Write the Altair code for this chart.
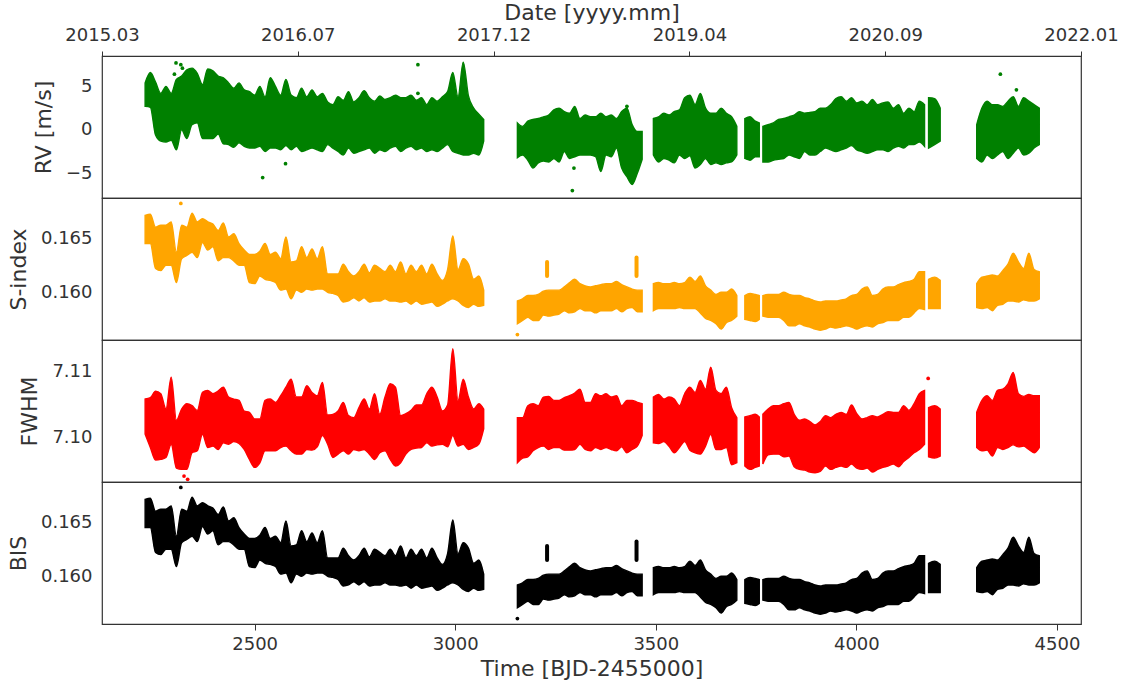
import altair as alt
import pandas as pd

# ---------------- data ----------------
# observing seasons (sample counts per season, in order)
SEASON_NAMES = ["s1", "s2", "s3", "s4a", "s4b", "s4c", "s5"]
SEASON_SIZES = [66, 25, 17, 4, 32, 3, 13]

TIME = [
    # season 1
    2227, 2240, 2253, 2266, 2279, 2292, 2305, 2318, 2331, 2344,
    2357, 2370, 2383, 2396, 2409, 2422, 2435, 2448, 2461, 2474,
    2487, 2500, 2513, 2526, 2539, 2552, 2565, 2578, 2591, 2604,
    2617, 2630, 2643, 2656, 2669, 2682, 2695, 2708, 2721, 2734,
    2747, 2760, 2773, 2786, 2799, 2812, 2825, 2838, 2851, 2864,
    2877, 2890, 2903, 2916, 2929, 2942, 2955, 2968, 2981, 2994,
    3007, 3020, 3033, 3046, 3059, 3071,
    # season 2
    3155, 3168, 3181, 3194, 3207, 3220, 3233, 3246, 3259, 3272,
    3285, 3298, 3311, 3324, 3337, 3350, 3363, 3376, 3389, 3402,
    3415, 3428, 3441, 3454, 3466,
    # season 3
    3494, 3507, 3520, 3533, 3546, 3559, 3572, 3585, 3598, 3611,
    3624, 3637, 3650, 3663, 3676, 3689, 3702,
    # season 4a
    3722, 3735, 3748, 3758,
    # season 4b
    3767, 3780, 3793, 3806, 3819, 3832, 3845, 3858, 3871, 3884,
    3897, 3910, 3923, 3936, 3949, 3962, 3975, 3988, 4001, 4014,
    4027, 4040, 4053, 4066, 4079, 4092, 4105, 4118, 4131, 4144,
    4157, 4170,
    # season 4c
    4180, 4195, 4209,
    # season 5
    4300, 4313, 4326, 4339, 4352, 4365, 4378, 4391, 4404, 4417,
    4430, 4443, 4456,
]

RV_HI = [
    5.4, 6.6, 5.5, 4.2, 5.0, 4.2, 5.8, 6.2, 6.9, 7.1,
    6.5, 5.2, 7.0, 6.8, 6.2, 6.0, 5.4, 4.8, 5.4, 4.6,
    4.4, 4.0, 5.0, 3.8, 6.0, 5.0, 4.0, 5.8, 4.0, 3.7,
    4.8, 3.8, 4.6, 3.8, 4.2, 3.2, 2.9, 3.8, 3.4, 4.4,
    3.2, 3.7, 4.5, 3.7, 3.3, 3.9, 3.5, 3.7, 4.0, 3.7,
    3.7, 4.0, 3.4, 3.7, 2.9, 3.7, 3.3, 3.8, 4.4, 6.6,
    3.8, 7.8, 3.9, 2.5, 1.8, 1.2,
    0.8, 0.4, 1.0, 1.2, 1.3, 1.5, 1.7, 2.3, 2.5, 2.1,
    1.9, 2.7, 1.3, 1.7, 1.5, 1.5, 1.9, 1.5, 1.7, 1.3,
    2.1, 2.5, 0.6, -0.2, -0.2,
    1.3, 1.5, 1.9, 1.7, 2.1, 2.3, 3.7, 4.0, 2.9, 4.2,
    2.5, 1.9, 1.9, 2.5, 1.9, 1.5, 0.4,
    1.3, 1.5, 1.0, 0.8,
    0.4, 0.6, 0.8, 1.2, 1.3, 1.5, 1.7, 2.1, 1.9, 2.0,
    2.1, 2.5, 2.5, 2.9, 3.6, 3.8, 3.3, 3.7, 3.1, 3.3,
    2.9, 3.5, 2.9, 3.1, 3.2, 2.5, 2.9, 1.9, 2.5, 2.1,
    3.3, 2.9,
    3.7, 3.6, 2.5,
    0.6, 2.5, 3.3, 2.9, 2.9, 2.7, 3.3, 3.8, 2.7, 3.7,
    3.3, 2.9, 2.5,
]
RV_LO = [
    2.7, 2.6, -0.6, -1.3, -1.4, -1.2, -2.3, 0.0, -1.0, 0.6,
    0.8, -1.0, -1.0, -1.0, -0.5, -1.6, -1.7, -2.0, -1.5, -1.9,
    -2.1, -2.1, -1.9, -2.5, -2.1, -2.1, -2.3, -1.8, -2.3, -1.9,
    -2.5, -2.3, -2.1, -2.3, -2.5, -1.7, -2.1, -2.5, -2.9, -2.1,
    -2.7, -2.5, -2.3, -2.1, -2.7, -2.3, -2.5, -2.1, -1.9, -2.5,
    -2.1, -1.9, -2.3, -2.1, -2.5, -2.3, -2.5, -2.1, -1.7, -2.5,
    -2.7, -2.9, -2.9, -2.7, -2.9, -1.3,
    -3.2, -2.9, -3.5, -4.4, -3.8, -3.6, -3.7, -3.3, -3.7, -2.5,
    -3.3, -3.1, -2.9, -2.9, -2.9, -3.1, -4.8, -2.9, -3.1, -2.1,
    -4.4, -5.4, -6.3, -5.0, -3.4,
    -2.9, -3.7, -3.3, -3.5, -3.8, -2.9, -3.3, -3.0, -4.4, -4.0,
    -3.3, -4.0, -3.8, -4.0, -3.8, -3.7, -2.9,
    -3.3, -3.5, -3.1, -3.1,
    -3.7, -3.7, -3.5, -3.4, -3.3, -2.9, -3.1, -3.3, -2.5, -2.9,
    -2.9, -2.5, -2.1, -2.3, -2.5, -2.3, -2.1, -1.8, -2.3, -2.5,
    -2.7, -2.5, -2.3, -2.3, -2.5, -2.1, -1.9, -2.1, -1.7, -1.7,
    -1.4, -1.9,
    -2.1, -1.7, -1.3,
    -3.3, -3.7, -2.9, -3.3, -2.9, -2.5, -3.3, -2.7, -2.1, -2.9,
    -2.7, -2.1, -1.7,
]

S_HI = [
    0.1671, 0.1672, 0.1660, 0.1662, 0.1662, 0.1665, 0.1637, 0.1662, 0.1660, 0.1673,
    0.1665, 0.1668, 0.1665, 0.1663, 0.1657, 0.1664, 0.1651, 0.1654, 0.1645, 0.1639,
    0.1635, 0.1635, 0.1638, 0.1645, 0.1635, 0.1637, 0.1631, 0.1651, 0.1628, 0.1629,
    0.1642, 0.1632, 0.1640, 0.1631, 0.1642, 0.1617, 0.1617, 0.1617, 0.1626, 0.1619,
    0.1615, 0.1619, 0.1626, 0.1618, 0.1625, 0.1622, 0.1619, 0.1625, 0.1619, 0.1628,
    0.1617, 0.1625, 0.1619, 0.1625, 0.1617, 0.1626, 0.1617, 0.1611, 0.1621, 0.1652,
    0.1621, 0.1631, 0.1626, 0.1612, 0.1615, 0.1602,
    0.1592, 0.1594, 0.1597, 0.1597, 0.1598, 0.1601, 0.1602, 0.1602, 0.1602, 0.1605,
    0.1609, 0.1612, 0.1608, 0.1606, 0.1605, 0.1606, 0.1607, 0.1608, 0.1608, 0.1610,
    0.1607, 0.1605, 0.1603, 0.1602, 0.1602,
    0.1608, 0.1609, 0.1608, 0.1608, 0.1609, 0.1608, 0.1609, 0.1614, 0.1610, 0.1615,
    0.1606, 0.1602, 0.1598, 0.1600, 0.1600, 0.1603, 0.1597,
    0.1597, 0.1599, 0.1598, 0.1597,
    0.1597, 0.1598, 0.1598, 0.1598, 0.1600, 0.1598, 0.1597, 0.1597, 0.1595, 0.1594,
    0.1592, 0.1591, 0.1592, 0.1592, 0.1592, 0.1593, 0.1594, 0.1597, 0.1598, 0.1603,
    0.1605, 0.1597, 0.1598, 0.1603, 0.1605, 0.1605, 0.1607, 0.1609, 0.1610, 0.1612,
    0.1619, 0.1619,
    0.1612, 0.1614, 0.1611,
    0.1608, 0.1614, 0.1615, 0.1616, 0.1615, 0.1620, 0.1626, 0.1636, 0.1628, 0.1622,
    0.1636, 0.1621, 0.1619,
]
S_LO = [
    0.1645, 0.1645, 0.1622, 0.1620, 0.1625, 0.1625, 0.1609, 0.1631, 0.1634, 0.1637,
    0.1632, 0.1646, 0.1639, 0.1642, 0.1629, 0.1632, 0.1632, 0.1629, 0.1625, 0.1625,
    0.1609, 0.1608, 0.1615, 0.1612, 0.1611, 0.1609, 0.1602, 0.1603, 0.1594, 0.1602,
    0.1600, 0.1603, 0.1602, 0.1603, 0.1603, 0.1600, 0.1599, 0.1597, 0.1591, 0.1592,
    0.1595, 0.1592, 0.1595, 0.1591, 0.1592, 0.1592, 0.1594, 0.1592, 0.1592, 0.1591,
    0.1592, 0.1589, 0.1592, 0.1589, 0.1590, 0.1591, 0.1587, 0.1589, 0.1592, 0.1594,
    0.1592, 0.1588, 0.1586, 0.1589, 0.1587, 0.1588,
    0.1571, 0.1574, 0.1577, 0.1574, 0.1574, 0.1579, 0.1578, 0.1579, 0.1580, 0.1583,
    0.1581, 0.1582, 0.1585, 0.1583, 0.1583, 0.1581, 0.1583, 0.1583, 0.1583, 0.1585,
    0.1582, 0.1585, 0.1586, 0.1582, 0.1582,
    0.1583, 0.1585, 0.1585, 0.1585, 0.1585, 0.1586, 0.1585, 0.1585, 0.1585, 0.1581,
    0.1576, 0.1574, 0.1571, 0.1566, 0.1572, 0.1574, 0.1578,
    0.1575, 0.1574, 0.1573, 0.1575,
    0.1578, 0.1577, 0.1577, 0.1577, 0.1574, 0.1569, 0.1569, 0.1571, 0.1569, 0.1568,
    0.1566, 0.1565, 0.1566, 0.1568, 0.1567, 0.1568, 0.1569, 0.1568, 0.1566, 0.1568,
    0.1569, 0.1568, 0.1571, 0.1572, 0.1574, 0.1574, 0.1574, 0.1577, 0.1577, 0.1581,
    0.1585, 0.1584,
    0.1585, 0.1585, 0.1585,
    0.1586, 0.1585, 0.1586, 0.1583, 0.1588, 0.1589, 0.1592, 0.1592, 0.1591, 0.1593,
    0.1592, 0.1592, 0.1594,
]

FW_HI = [
    7.1058, 7.1060, 7.1070, 7.1066, 7.1043, 7.1091, 7.1026, 7.1043, 7.1051, 7.1048,
    7.1041, 7.1068, 7.1071, 7.1066, 7.1070, 7.1076, 7.1061, 7.1058, 7.1056, 7.1040,
    7.1038, 7.1028, 7.1028, 7.1056, 7.1058, 7.1053, 7.1063, 7.1076, 7.1088, 7.1061,
    7.1061, 7.1078, 7.1068, 7.1063, 7.1083, 7.1034, 7.1035, 7.1040, 7.1053, 7.1033,
    7.1030, 7.1045, 7.1058, 7.1043, 7.1066, 7.1035, 7.1061, 7.1081, 7.1076, 7.1033,
    7.1036, 7.1041, 7.1049, 7.1049, 7.1066, 7.1076, 7.1061, 7.1040, 7.1049, 7.1134,
    7.1056, 7.1088, 7.1061, 7.1043, 7.1051, 7.1043,
    7.1030, 7.1030, 7.1048, 7.1051, 7.1048, 7.1061, 7.1062, 7.1056, 7.1056, 7.1060,
    7.1063, 7.1067, 7.1073, 7.1053, 7.1053, 7.1066, 7.1063, 7.1066, 7.1061, 7.1063,
    7.1048, 7.1056, 7.1056, 7.1053, 7.1051,
    7.1061, 7.1065, 7.1058, 7.1061, 7.1058, 7.1048, 7.1066, 7.1076, 7.1068, 7.1086,
    7.1073, 7.1106, 7.1071, 7.1066, 7.1076, 7.1045, 7.1030,
    7.1031, 7.1033, 7.1035, 7.1031,
    7.1035, 7.1043, 7.1048, 7.1048, 7.1051, 7.1053, 7.1035, 7.1026, 7.1028, 7.1024,
    7.1019, 7.1024, 7.1033, 7.1030, 7.1035, 7.1038, 7.1035, 7.1049, 7.1036, 7.1028,
    7.1030, 7.1033, 7.1031, 7.1035, 7.1039, 7.1038, 7.1038, 7.1048, 7.1041, 7.1051,
    7.1066, 7.1071,
    7.1045, 7.1048, 7.1043,
    7.1038, 7.1056, 7.1063, 7.1056, 7.1071, 7.1073, 7.1081, 7.1098, 7.1066, 7.1062,
    7.1065, 7.1063, 7.1063,
]
FW_LO = [
    7.1005, 7.0985, 7.0966, 7.0967, 7.0970, 7.0990, 7.0954, 7.0952, 7.0952, 7.0977,
    7.0980, 7.1005, 7.0985, 7.0987, 7.0982, 7.0992, 7.0990, 7.0994, 7.0991, 7.0982,
    7.0967, 7.0955, 7.0962, 7.0980, 7.0980, 7.0980, 7.0985, 7.0987, 7.0980, 7.0975,
    7.0975, 7.0982, 7.0981, 7.0986, 7.1003, 7.0990, 7.0970, 7.0975, 7.0980, 7.0975,
    7.0982, 7.0980, 7.0982, 7.0975, 7.0967, 7.0977, 7.0980, 7.0967, 7.0957, 7.0962,
    7.0975, 7.0982, 7.0984, 7.0985, 7.0992, 7.0987, 7.0989, 7.0990, 7.0986, 7.1003,
    7.0987, 7.0990, 7.0982, 7.0985, 7.0990, 7.1013,
    7.0962, 7.0969, 7.0971, 7.0980, 7.0985, 7.0987, 7.0982, 7.0985, 7.0985, 7.0981,
    7.0981, 7.0982, 7.0990, 7.0982, 7.0980, 7.0985, 7.0982, 7.0985, 7.0982, 7.0980,
    7.0986, 7.0977, 7.0982, 7.0987, 7.1003,
    7.0992, 7.0991, 7.0994, 7.0987, 7.0977, 7.0985, 7.0994, 7.0981, 7.0977, 7.0975,
    7.0987, 7.1005, 7.0982, 7.0982, 7.0985, 7.0959, 7.0962,
    7.0957, 7.0952, 7.0955, 7.0957,
    7.0960, 7.0974, 7.0975, 7.0975, 7.0971, 7.0972, 7.0956, 7.0952, 7.0951, 7.0948,
    7.0947, 7.0949, 7.0957, 7.0952, 7.0955, 7.0957, 7.0955, 7.0960, 7.0954, 7.0952,
    7.0954, 7.0948, 7.0952, 7.0955, 7.0957, 7.0960, 7.0956, 7.0964, 7.0970, 7.0977,
    7.0982, 7.0990,
    7.0971, 7.0969, 7.0972,
    7.0985, 7.0980, 7.0981, 7.0972, 7.0985, 7.0982, 7.0985, 7.0989, 7.0986, 7.0987,
    7.0982, 7.0977, 7.0985,
]

# the BIS panel of the reference shows exactly the same cloud as the S-index panel
BIS_HI = list(S_HI)
BIS_LO = list(S_LO)

# isolated short groups (S-index / BIS)
BLOCK_T = [3229, 3452]
BLOCK_LO = [0.1615, 0.1615]
BLOCK_HI = [0.1628, 0.1632]

# isolated points
RV_OUT_T = [2300, 2304, 2316, 2320, 2520, 2577, 2907, 2907, 3292, 3296, 3428, 4359, 4399]
RV_OUT_V = [6.4, 7.7, 7.5, 7.1, -5.5, -3.9, 7.5, 4.2, -7.0, -4.4, 2.7, 6.4, 4.6]
S_OUT_T = [2316, 3155]
S_OUT_V = [0.1682, 0.1561]
FW_OUT_T = [2324, 2333, 4179]
FW_OUT_V = [7.0942, 7.0937, 7.1089]

# axes
X_DOMAIN = [2119.5, 4560]
BOTTOM_TICKS = [2500, 3000, 3500, 4000, 4500]
TOP_TICK_POS = [2119.5, 2607.6, 3095.7, 3583.8, 4071.9, 4560]
TOP_TICK_LABELS = ["2015.03", "2016.07", "2017.12", "2019.04", "2020.09", "2022.01"]

RV_DOMAIN = [-7.85, 8.5]
RV_TICKS = [-5, 0, 5]
S_DOMAIN = [0.1556, 0.1687]
S_TICKS = [0.160, 0.165]
FW_DOMAIN = [7.0933, 7.1147]
FW_TICKS = [7.10, 7.11]
BIS_DOMAIN = [0.1556, 0.1687]
BIS_TICKS = [0.160, 0.165]

# ---------------- build tables ----------------
assert sum(SEASON_SIZES) == len(TIME)
for arr in (RV_HI, RV_LO, S_HI, S_LO, FW_HI, FW_LO):
    assert len(arr) == len(TIME), len(arr)

season = []
for name, n in zip(SEASON_NAMES, SEASON_SIZES):
    season += [name] * n

band = pd.DataFrame({
    "t": TIME, "season": season,
    "rv_hi": RV_HI, "rv_lo": RV_LO,
    "s_hi": S_HI, "s_lo": S_LO,
    "fw_hi": FW_HI, "fw_lo": FW_LO,
    "bis_hi": BIS_HI, "bis_lo": BIS_LO,
})
blocks = pd.DataFrame({"t": BLOCK_T, "lo": BLOCK_LO, "hi": BLOCK_HI})
rv_out = pd.DataFrame({"t": RV_OUT_T, "v": RV_OUT_V})
s_out = pd.DataFrame({"t": S_OUT_T, "v": S_OUT_V})
fw_out = pd.DataFrame({"t": FW_OUT_T, "v": FW_OUT_V})

FONT = "DejaVu Sans"
TXT = "#333333"
W, H = 979, 142

xscale = alt.Scale(domain=X_DOMAIN, nice=False, zero=False)

label_expr = (
    "[" + ",".join("'%s'" % s for s in TOP_TICK_LABELS) + "]"
    "[indexof([" + ",".join(str(v) for v in TOP_TICK_POS) + "], datum.value)]"
)

top_axis = alt.Axis(
    orient="top", values=TOP_TICK_POS, labelExpr=label_expr,
    title="Date [yyyy.mm]", ticks=True, tickSize=5, domain=False, grid=False,
    labelPadding=7, titlePadding=2, labelFlush=False, labelOverlap=False,
)
bottom_axis = alt.Axis(
    orient="bottom", values=BOTTOM_TICKS, format="d",
    title="Time [BJD-2455000]", ticks=True, tickSize=6, domain=False, grid=False,
    labelPadding=5, titlePadding=5, labelFlush=False, labelOverlap=False,
)


def panel(hi, lo, color, ydomain, yticks, yfmt, ytitle, xaxis, out_df=None, block_df=None):
    yscale = alt.Scale(domain=ydomain, nice=False, zero=False)
    yaxis = alt.Axis(values=yticks, format=yfmt, title=ytitle, ticks=False,
                     domain=False, grid=False, labelPadding=10, titlePadding=10,
                     labelFlush=False)
    x = alt.X("t:Q", scale=xscale, axis=xaxis)
    layers = [
        alt.Chart(band).mark_area(fill=color, stroke=color, strokeWidth=1.4,
                                  fillOpacity=1, clip=True,
                                  interpolate="monotone").encode(
            x=x,
            y=alt.Y(f"{hi}:Q", scale=yscale, axis=yaxis),
            y2=f"{lo}:Q",
            detail="season:N",
        )
    ]
    if block_df is not None:
        layers.append(
            alt.Chart(block_df).mark_rule(color=color, strokeWidth=4, strokeCap="round",
                                          clip=True).encode(
                x=x, y=alt.Y("lo:Q", scale=yscale, axis=yaxis), y2="hi:Q"
            )
        )
    if out_df is not None:
        layers.append(
            alt.Chart(out_df).mark_circle(color=color, size=14, opacity=1, clip=True).encode(
                x=x, y=alt.Y("v:Q", scale=yscale, axis=yaxis)
            )
        )
    return alt.layer(*layers).properties(width=W, height=H)


p_rv = panel("rv_hi", "rv_lo", "#008000", RV_DOMAIN, RV_TICKS, "d", "RV [m/s]", top_axis, rv_out)
p_s = panel("s_hi", "s_lo", "#ffa500", S_DOMAIN, S_TICKS, ".3f", "S-index", None, s_out, blocks)
p_fw = panel("fw_hi", "fw_lo", "#ff0000", FW_DOMAIN, FW_TICKS, ".2f", "FWHM", None, fw_out)
p_bis = panel("bis_hi", "bis_lo", "#000000", BIS_DOMAIN, BIS_TICKS, ".3f", "BIS", bottom_axis, s_out, blocks)

chart = (
    alt.vconcat(p_rv, p_s, p_fw, p_bis, spacing=0, bounds="flush")
    .properties(padding={"left": 6, "top": 0, "right": 10, "bottom": 2}, background="white")
    .configure_view(stroke="#333333", strokeWidth=1.2)
    .configure_axis(
        labelFont=FONT, labelFontSize=18, labelColor=TXT,
        titleFont=FONT, titleFontSize=22, titleColor=TXT, titleFontWeight="normal",
        tickColor=TXT, tickWidth=1,
    )
)

chart.save("out.html", embed_options={"renderer": "svg", "actions": False})
